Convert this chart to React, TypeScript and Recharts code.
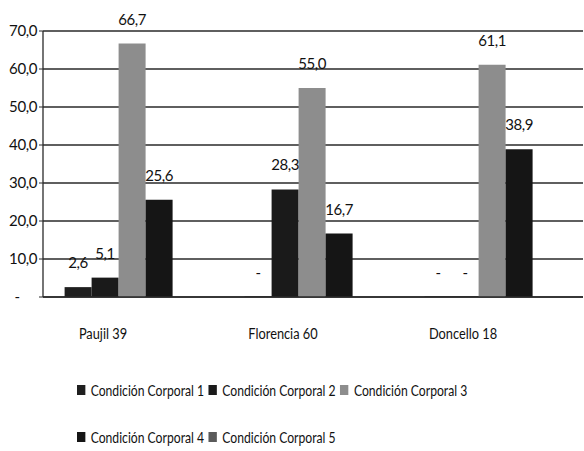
import React from 'react';
import { BarChart, Bar, XAxis, YAxis, CartesianGrid, Legend, LabelList } from 'recharts';

const categories = ['Paujil 39', 'Florencia 60', 'Doncello 18'];
const cc1 = [2.6, 0, 0];
const cc2 = [5.1, 28.3, 0];
const cc3 = [66.7, 55.0, 61.1];
const cc4 = [25.6, 16.7, 38.9];
const cc5 = [null, null, null];
const yTicks = [0, 10, 20, 30, 40, 50, 60, 70];

const seriesNames = [
  'Condición Corporal 1',
  'Condición Corporal 2',
  'Condición Corporal 3',
  'Condición Corporal 4',
  'Condición Corporal 5',
];
const COLORS = ['#1f1f1f', '#1a1a1a', '#8d8d8d', '#151515', '#5a5a5a'];

const FONT = "Lato, 'Liberation Sans', sans-serif";

const data = categories.map((name, i) => ({
  name,
  cc1: cc1[i],
  cc2: cc2[i],
  cc3: cc3[i],
  cc4: cc4[i],
  cc5: cc5[i],
}));

const fmt = (v: number) => (v === 0 ? '-' : v.toFixed(1).replace('.', ','));

const YTick = (props: any) => {
  const { x, y, payload } = props;
  const zero = payload.value === 0;
  return (
    <text
      x={zero ? x - 20 : x}
      y={y}
      dy={5}
      textAnchor={zero ? 'middle' : 'end'}
      fontSize={15}
      fontFamily={FONT}
      letterSpacing={-0.4}
      fill="#111"
    >
      {fmt(payload.value)}
    </text>
  );
};

// narrow the category labels a little, like the condensed font of the original
const XTick = (props: any) => {
  const { x, y, payload } = props;
  return (
    <text
      transform={`translate(${x - 30},${y}) scale(0.8,1)`}
      dy={12}
      textAnchor="middle"
      fontSize={16}
      fontFamily={FONT}
      fill="#111"
    >
      {payload.value}
    </text>
  );
};

const BarLabel = (props: any) => {
  const { x, y, width, value } = props;
  if (value === null || value === undefined) return null;
  return (
    <text x={x + width / 2} y={y - 19} textAnchor="middle" fontSize={15} fontFamily={FONT} letterSpacing={-0.4} fill="#111">
      {fmt(Number(value))}
    </text>
  );
};

const renderLegend = (props: any) => {
  const { payload } = props;
  const rows = [payload.slice(0, 3), payload.slice(3)];
  return (
    <div
      style={{
        fontFamily: FONT,
        fontSize: 16,
        color: '#111',
        transform: 'scaleX(0.76)',
        transformOrigin: 'left center',
      }}
    >
      {rows.map((row: any[], r: number) => (
        <div key={r} style={{ display: 'flex', alignItems: 'center', height: 47 }}>
          {row.map((item: any) => (
            <span key={item.value} style={{ display: 'flex', alignItems: 'center', marginRight: 6 }}>
              <span
                style={{
                  display: 'inline-block',
                  width: 11,
                  height: 10,
                  background: item.color,
                  marginRight: 7,
                }}
              />
              {item.value}
            </span>
          ))}
        </div>
      ))}
    </div>
  );
};

const keys = ['cc1', 'cc2', 'cc3', 'cc4', 'cc5'];

export default function App() {
  return (
    <div style={{ position: 'absolute', left: 0, top: 0, background: '#fff' }}>
      <BarChart
        width={584}
        height={451}
        data={data}
        margin={{ top: 31, right: 1, bottom: 0, left: 0 }}
        barCategoryGap="12%"
        barGap={0}
      >
        <CartesianGrid vertical={false} stroke="#2a2a2a" strokeWidth={1.3} />
        <XAxis
          dataKey="name"
          axisLine={{ stroke: '#2a2a2a', strokeWidth: 1.3 }}
          tickLine={false}
          tickMargin={24}
          height={60}
          tick={<XTick />}
        />
        <YAxis
          width={43}
          domain={[0, 70]}
          ticks={yTicks}
          interval={0}
          axisLine={{ stroke: '#2a2a2a', strokeWidth: 1.3 }}
          tickLine={{ stroke: '#2a2a2a' }}
          tickSize={4}
          tick={<YTick />}
        />
        <Legend
          verticalAlign="bottom"
          align="left"
          content={renderLegend}
          wrapperStyle={{ left: 77, top: 366, width: 560, height: 94 }}
        />
        {keys.map((k, i) => (
          <Bar
            key={k}
            dataKey={k}
            name={seriesNames[i]}
            fill={COLORS[i]}
            minPointSize={(v: any) => (v === 0 ? 0.5 : 0)}
            isAnimationActive={false}
          >
            <LabelList dataKey={k} content={<BarLabel />} />
          </Bar>
        ))}
      </BarChart>
    </div>
  );
}
